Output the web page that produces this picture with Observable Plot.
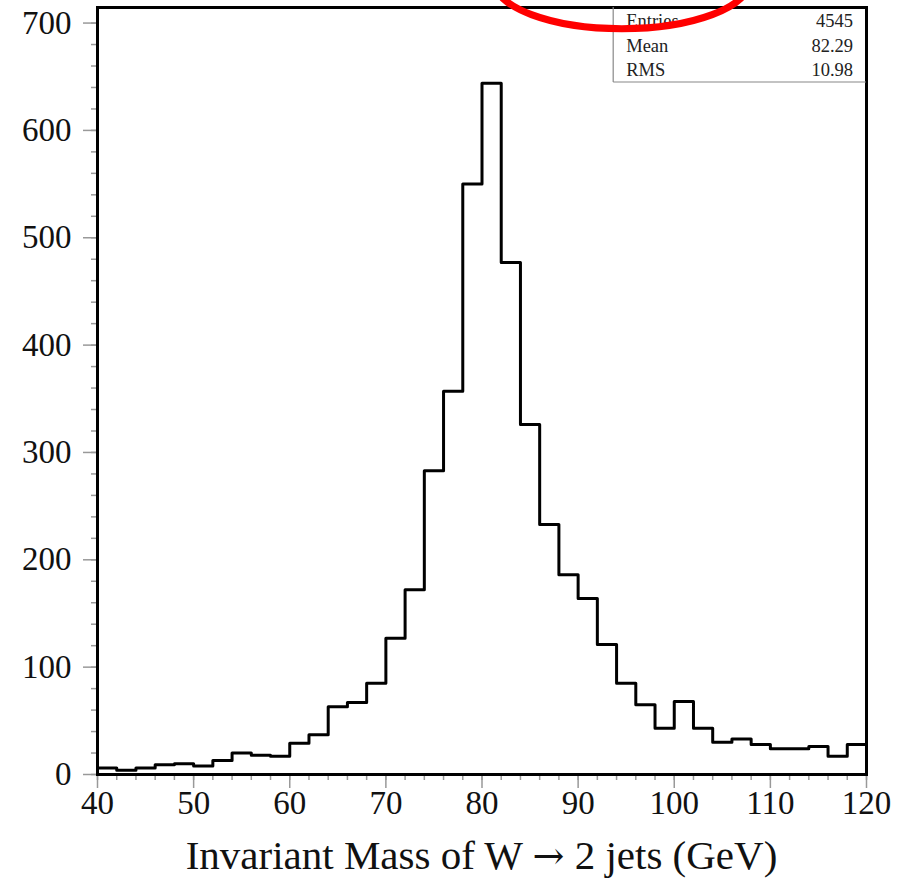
<!DOCTYPE html>
<html><head><meta charset="utf-8">
<script src="https://cdn.jsdelivr.net/npm/d3@7"></script>
<script src="https://cdn.jsdelivr.net/npm/@observablehq/plot@0.6"></script>
<style>
body{margin:0;background:#fff;}
#wrap{position:relative;width:907px;height:880px;}
</style></head><body><div id="wrap"></div>
<script>
const binStart = 40;
const binWidth = 2;
const counts = [6,4,6,9,10,8,13,20,18,17,29,37,63,67,85,
  127,172,283,357,550,644,477,326,233,186,164,121,85,65,43,
  68,43,30,33,28,24,24,26,17,28];
const xTicks = [40,50,60,70,80,90,100,110,120];
const xMinorTicks = d3.range(40,121,2);
const yTicks = [0,100,200,300,400,500,600,700];
const yMinorTicks = d3.range(0,711,20);
const xLabelParts = ["Invariant Mass of W ", "\u2192", " 2 jets (GeV)"];
const statNames = ["Entries","Mean","RMS"];
const statValues = ["4545","82.29","10.98"];

const pts = counts.map((c,i)=>({x: binStart + i*binWidth, y: c}));
pts.push({x: binStart + counts.length*binWidth, y: counts[counts.length-1]});

const font = '"Liberation Serif","Times New Roman",serif';
const plot = Plot.plot({
  width: 907, height: 880,
  marginLeft: 97, marginRight: 41, marginTop: 7, marginBottom: 106,
  style: {fontFamily: font, background: "white", color: "#111"},
  x: {domain: [40,120]},
  y: {domain: [0,714.5]},
  marks: [
    Plot.axisY(yMinorTicks, {tickSize: 6, text: null, label: null, stroke: "#999", strokeWidth: 1.5}),
    Plot.axisY(yTicks, {tickSize: 14, tickPadding: 12, fontSize: 33, label: null, stroke: "#999", strokeWidth: 1.5}),
    Plot.axisX(xMinorTicks, {tickSize: 6, text: null, label: null, stroke: "#999", strokeWidth: 1.5}),
    Plot.axisX(xTicks, {tickSize: 14, tickPadding: 2, fontSize: 33, label: null, stroke: "#999", strokeWidth: 1.5}),
    Plot.line(pts, {x: "x", y: "y", curve: "step-after", stroke: "black", strokeWidth: 3}),
    Plot.frame({stroke: "black", strokeWidth: 3})
  ]
});
document.getElementById("wrap").appendChild(plot);

const svg = d3.select(plot);
const sx = plot.scale("x"), sy = plot.scale("y");
// axis title
const t = svg.append("text")
  .attr("x", (sx.apply(40)+sx.apply(120))/2).attr("y", 869)
  .attr("text-anchor","middle").attr("font-family",font).attr("font-size",41).attr("fill","#111");
t.append("tspan").text(xLabelParts[0]);
t.append("tspan").attr("font-family",'"DejaVu Serif",serif').attr("font-size",38).text(xLabelParts[1]);
t.append("tspan").text(xLabelParts[2]);
// stats box
const bx0 = sx.apply(93.7), bx1 = sx.apply(120), by0 = sy.apply(714.5), by1 = 82;
const g = svg.append("g");
g.append("line").attr("x1",bx0).attr("x2",bx0).attr("y1",by0).attr("y2",by1).attr("stroke","#888").attr("stroke-width",1.2);
g.append("line").attr("x1",bx0).attr("x2",bx1).attr("y1",by1).attr("y2",by1).attr("stroke","#888").attr("stroke-width",1.2);
statNames.forEach((n,i)=>{
  const yb = 27 + i*24.6;
  g.append("text").attr("x",bx0+13).attr("y",yb).attr("text-anchor","start").attr("font-size",18.5).attr("font-family",font).attr("fill","#222").text(n);
  g.append("text").attr("x",bx1-13).attr("y",yb).attr("text-anchor","end").attr("font-size",18.5).attr("font-family",font).attr("fill","#222").text(statValues[i]);
});
// red annotation ellipse
const ecx = 94.6, ecy = 739, erx = 13.3, ery = 44.7;
svg.append("ellipse")
  .attr("cx", sx.apply(ecx)).attr("cy", sy.apply(ecy))
  .attr("rx", sx.apply(ecx+erx)-sx.apply(ecx)).attr("ry", sy.apply(ecy-ery)-sy.apply(ecy))
  .attr("fill","none").attr("stroke","#ff0000").attr("stroke-width",7);
</script></body></html>
